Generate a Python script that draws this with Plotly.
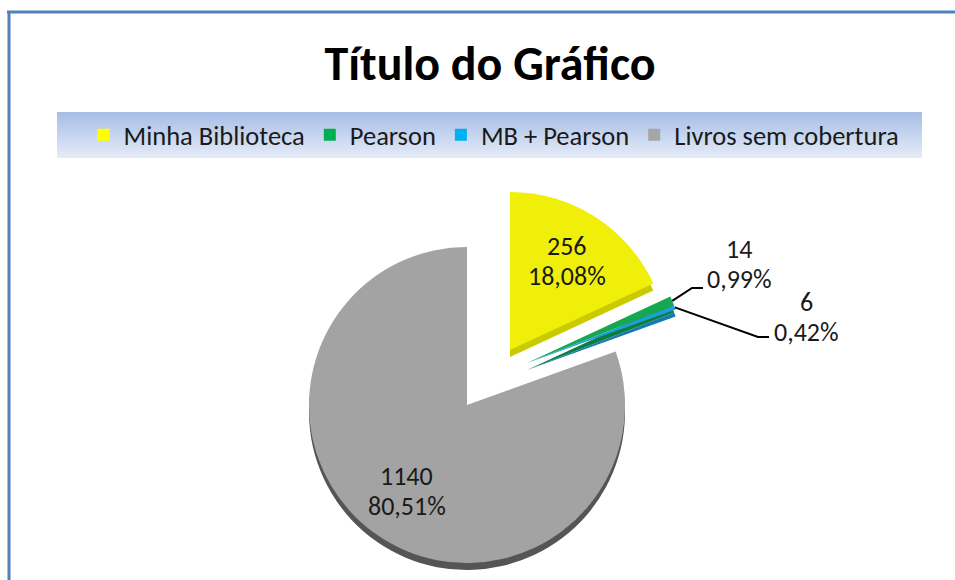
import base64
import math
import plotly.graph_objects as go

# ---- data -----------------------------------------------------------------
labels = ["Minha Biblioteca", "Pearson", "MB + Pearson", "Livros sem cobertura"]
values = [256, 14, 6, 1140]
legend_colors = ["#ffff00", "#00b050", "#00b0f0", "#a6a6a6"]
face_colors = ["#efef0a", "#16a84f", "#1d9fde", "#a3a3a3"]
side_colors = ["#caca00", "#0c7d3a", "#137bb0", "#555555"]

# ---- canvas / geometry (pixels) ------------------------------------------
W, H = 955, 580
CX, CY, R = 467, 405, 158      # centre and radius of the pie
DEPTH = 7                      # thickness of the 3-D rim
# how far each slice is pulled away from the centre (dx, dy in px)
EXPLODE_PX = [(43, -55), (60, -42), (60, -42), (0, 0)]
FONT = "Carlito, Lato, 'Open Sans', sans-serif"
LINE_GAP = 30                  # distance between the two lines of a label


def fx(px):
    return px / W


def fy(py):
    return 1 - py / H


total = sum(values)
mids = []
acc = 0
for v in values:
    mids.append((acc + v / 2) / total * 2 * math.pi)   # clockwise from 12 o'clock
    acc += v


def slice_centre(k):
    dx, dy = EXPLODE_PX[k]
    return CX + dx, CY + dy


def domain_at(cx, cy):
    return dict(x=[fx(cx - R), fx(cx + R)], y=[fy(cy + R), fy(cy - R)])


def pct_text(v):
    return f"{v / total * 100:.2f}".replace(".", ",") + "%"


fig = go.Figure()

# legend-only trace (tiny, invisible pie) carrying the legend colours
fig.add_trace(go.Pie(
    labels=labels, values=values, sort=False, direction="clockwise",
    marker=dict(colors=legend_colors, line=dict(width=0)),
    textinfo="none", hoverinfo="skip",
    domain=dict(x=[0, 0.0002], y=[0, 0.0002]), showlegend=True,
))

# one pie per slice so each slice can be exploded on its own;
# a darker copy shifted down gives the 3-D rim
for layer, dy, cols in (("side", DEPTH, side_colors), ("face", 0, face_colors)):
    for k in range(len(values)):
        cx, cy = slice_centre(k)
        colours = ["rgba(0,0,0,0)"] * len(values)
        colours[k] = cols[k]
        fig.add_trace(go.Pie(
            labels=labels, values=values, sort=False, direction="clockwise",
            rotation=0, marker=dict(colors=colours, line=dict(width=0)),
            textinfo="none",
            hoverinfo="label+value+percent" if layer == "face" else "skip",
            domain=domain_at(cx, cy + dy), showlegend=False,
        ))

annotations = []
shapes = []
label_font = dict(family=FONT, size=26, color="#1a1a1a")


def add_label(k, tx, ty):
    """Two-line data label (value over percentage) centred on (tx, ty)."""
    for line, off in ((str(values[k]), -LINE_GAP / 2), (pct_text(values[k]), LINE_GAP / 2)):
        annotations.append(dict(
            x=fx(tx), y=fy(ty + off), xref="paper", yref="paper",
            showarrow=False, text=line, font=label_font,
            xanchor="center", yanchor="middle",
        ))


# labels inside the two large slices
for k in (0, 3):
    cx, cy = slice_centre(k)
    rr = 0.665 * R
    add_label(k, cx + rr * math.sin(mids[k]), cy - rr * math.cos(mids[k]))

# callouts for the two thin slices
callouts = {
    1: dict(text=(739, 264), knee=(692, 288), end=(703, 288)),
    2: dict(text=(806, 317), knee=(758, 337), end=(769, 337)),
}
for k, c in callouts.items():
    cx, cy = slice_centre(k)
    ax = cx + R * math.sin(mids[k])
    ay = cy - R * math.cos(mids[k])
    path = (f"M {fx(ax)},{fy(ay)} L {fx(c['knee'][0])},{fy(c['knee'][1])} "
            f"L {fx(c['end'][0])},{fy(c['end'][1])}")
    shapes.append(dict(type="path", xref="paper", yref="paper", path=path,
                       line=dict(color="#000000", width=2)))
    add_label(k, *c["text"])

# chart-area frame (continues past the right and bottom edges)
frame = "#4f81bd"
shapes.append(dict(type="line", xref="paper", yref="paper",
                   x0=fx(7), x1=1.05, y0=fy(12), y1=fy(12),
                   line=dict(color=frame, width=3)))
shapes.append(dict(type="line", xref="paper", yref="paper",
                   x0=fx(9), x1=fx(9), y0=fy(12), y1=-0.05,
                   line=dict(color=frame, width=3)))

# gradient band behind the legend
svg = ('<svg xmlns="http://www.w3.org/2000/svg" width="100" height="100" '
       'preserveAspectRatio="none" viewBox="0 0 100 100">'
       '<defs><linearGradient id="g" x1="0" y1="0" x2="0" y2="1">'
       '<stop offset="0" stop-color="#a6bde6"/>'
       '<stop offset="1" stop-color="#e6ecf8"/></linearGradient></defs>'
       '<rect width="100" height="100" fill="url(#g)"/></svg>')
band_src = "data:image/svg+xml;base64," + base64.b64encode(svg.encode()).decode()

fig.update_layout(
    width=W, height=H,
    margin=dict(l=0, r=0, t=0, b=0),
    paper_bgcolor="#ffffff", plot_bgcolor="#ffffff",
    separators=",.",
    title=dict(text="<b>Título do Gráfico</b>", x=fx(490), y=fy(63),
               xanchor="center", yanchor="middle",
               font=dict(family=FONT, size=48, color="#000000")),
    legend=dict(orientation="h", x=fx(494), y=fy(135), xanchor="center",
                yanchor="middle", bgcolor="rgba(0,0,0,0)",
                font=dict(family=FONT, size=26.5, color="#1a1a1a"),
                traceorder="normal"),
    images=[dict(source=band_src, xref="paper", yref="paper",
                 x=fx(57), y=fy(112), sizex=(922 - 57) / W, sizey=(158 - 112) / H,
                 xanchor="left", yanchor="top", sizing="stretch", layer="below")],
    annotations=annotations,
    shapes=shapes,
)

fig.write_html("out.html")
